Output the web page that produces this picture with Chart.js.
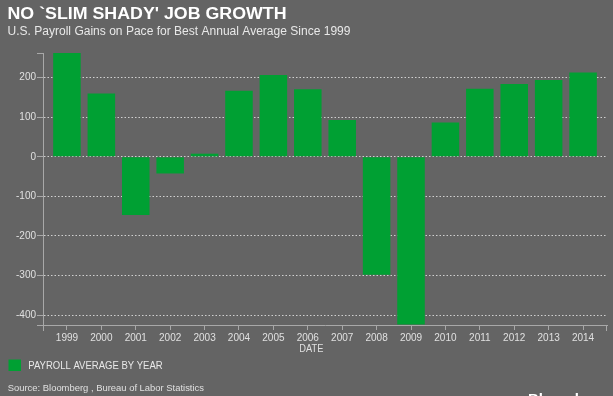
<!DOCTYPE html>
<html>
<head>
<meta charset="utf-8">
<script src="https://cdn.jsdelivr.net/npm/chart.js@4.4.1/dist/chart.umd.min.js"></script>
<style>
  html, body { margin: 0; padding: 0; background: #646464; }
  #wrap { position: relative; width: 613px; height: 396px; }
</style>
</head>
<body>
<div id="wrap"><canvas id="chart" width="613" height="396"></canvas></div>
<script>
// Années (catégories)
const years = ["1999", "2000", "2001", "2002", "2003", "2004", "2005", "2006",
  "2007", "2008", "2009", "2010", "2011", "2012", "2013", "2014"];

// Moyenne des créations d'emplois par année (milliers)
const payroll = [263, 160, -147, -42, 8, 167, 207, 171, 93, -298, -424, 87, 172, 184, 194, 213];

// Bornes de l'axe Y
const yMin = -425;
const yMax = 262.5;
const yStep = 100;

const titre = "NO `SLIM SHADY' JOB GROWTH";
const sousTitre = "U.S. Payroll Gains on Pace for Best Annual Average Since 1999";
const legende = "PAYROLL AVERAGE BY YEAR";
const source = "Source: Bloomberg , Bureau of Labor Statistics";
const titreX = "DATE";

const police = '"Liberation Sans", Arial, Helvetica, sans-serif';
const vert = "#00a033";
const couleurAxe = "#a8a8a8";

// Texte étiré / compressé pour tenir dans une largeur donnée
function texteAjuste(ctx, texte, x, y, largeur) {
  const w = ctx.measureText(texte).width;
  ctx.save();
  ctx.translate(x, y);
  ctx.scale(largeur / w, 1);
  ctx.fillText(texte, 0, 0);
  ctx.restore();
}

// Titres, légende, source et petites marques aux bouts des axes
const decor = {
  id: "decor",
  afterDraw(chart) {
    const ctx = chart.ctx;
    const { left, right, top, bottom } = chart.chartArea;
    ctx.save();
    ctx.textBaseline = "alphabetic";
    ctx.textAlign = "left";

    ctx.fillStyle = "#ffffff";
    ctx.font = "bold 16px " + police;
    texteAjuste(ctx, titre, 7.5, 18.5, 279);

    ctx.fillStyle = "#e8e8e8";
    ctx.font = "12px " + police;
    texteAjuste(ctx, sousTitre, 7.5, 35, 343);

    ctx.fillStyle = "#e0e0e0";
    ctx.font = "10px " + police;
    texteAjuste(ctx, titreX, 299.3, 352, 24);

    ctx.fillStyle = vert;
    ctx.fillRect(8.5, 359.5, 12.5, 11.5);
    ctx.fillStyle = "#e8e8e8";
    ctx.font = "10.5px " + police;
    texteAjuste(ctx, legende, 28.3, 369.3, 134.4);

    ctx.fillStyle = "#e0e0e0";
    ctx.font = "9px " + police;
    texteAjuste(ctx, source, 7.7, 390.7, 196.3);

    ctx.fillStyle = "#ffffff";
    ctx.font = "bold 15px " + police;
    ctx.fillText("Bloomberg", 528, 404);

    // marques extérieures (style d3)
    ctx.strokeStyle = couleurAxe;
    ctx.lineWidth = 1;
    ctx.beginPath();
    ctx.moveTo(left - 6, top + 0.5); ctx.lineTo(left, top + 0.5);
    ctx.moveTo(left - 6, bottom + 0.5); ctx.lineTo(left, bottom + 0.5);
    ctx.moveTo(left + 0.5, bottom); ctx.lineTo(left + 0.5, bottom + 6);
    ctx.moveTo(right - 0.5, bottom); ctx.lineTo(right - 0.5, bottom + 6);
    ctx.stroke();
    ctx.restore();
  }
};

const donnees = years.map((an, i) => ({ x: i, y: payroll[i] }));

new Chart(document.getElementById("chart"), {
  type: "bar",
  data: {
    datasets: [{
      label: legende,
      data: donnees,
      backgroundColor: vert,
      borderWidth: 0,
      barPercentage: 0.8,
      categoryPercentage: 1
    }]
  },
  options: {
    responsive: false,
    animation: false,
    layout: { padding: { top: 53, right: 6, bottom: 0, left: 0 } },
    plugins: { legend: { display: false }, tooltip: { enabled: false } },
    scales: {
      x: {
        type: "linear",
        offset: false,
        min: -0.696,
        max: 15.696,
        afterFit: (scale) => { scale.height = 71; },
        border: { display: true, color: couleurAxe, width: 1 },
        grid: {
          offset: false,
          drawOnChartArea: false,
          drawTicks: true,
          tickLength: 5,
          tickColor: couleurAxe
        },
        ticks: {
          stepSize: 1,
          maxTicksLimit: 20,
          includeBounds: false,
          autoSkip: false,
          maxRotation: 0,
          padding: 2,
          color: "#e0e0e0",
          font: { family: police, size: 10 },
          callback: (v) => years[v]
        }
      },
      y: {
        min: yMin,
        max: yMax,
        afterFit: (scale) => { scale.width = 43; },
        border: { display: true, color: couleurAxe, width: 1, dash: [1.5, 2] },
        grid: {
          color: "rgba(220,220,220,0.9)",
          lineWidth: 1,
          drawTicks: true,
          tickLength: 6,
          tickColor: couleurAxe,
          tickBorderDash: []
        },
        ticks: {
          stepSize: yStep,
          includeBounds: false,
          padding: 1,
          color: "#e0e0e0",
          font: { family: police, size: 10 }
        }
      }
    }
  },
  plugins: [decor]
});
</script>
</body>
</html>
